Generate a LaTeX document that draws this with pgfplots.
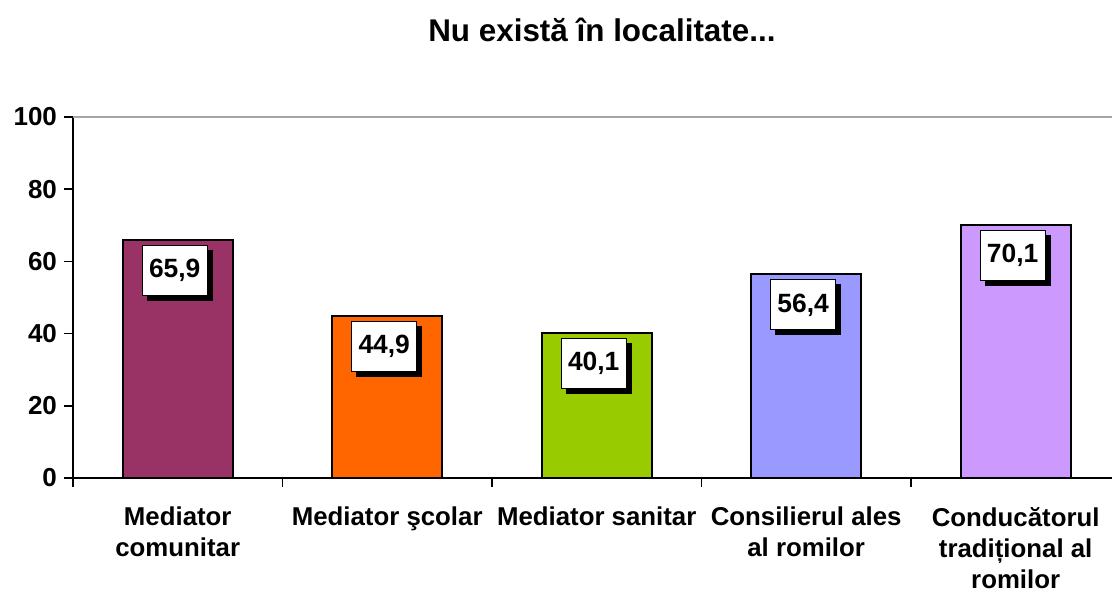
\documentclass[border=0pt]{standalone}
\usepackage{pgfplots}
\pgfplotsset{compat=1.18}
\usepackage{fontspec}
\setmainfont{Liberation Sans}
\usetikzlibrary{shadows}
\definecolor{c1}{HTML}{993366}
\definecolor{c2}{HTML}{FF6600}
\definecolor{c3}{HTML}{99CC00}
\definecolor{c4}{HTML}{9999FF}
\definecolor{c5}{HTML}{CC99FF}
\begin{document}
\begin{tikzpicture}[x=1pt,y=1pt]
\path[use as bounding box] (0,0) rectangle (556,298);
\begin{axis}[
  at={(36.5pt,59pt)}, anchor=south west,
  width=519.5pt, height=180.5pt, scale only axis,
  xmin=-0.5, xmax=4.46, ymin=0, ymax=100,
  clip=false,
  axis lines=left,
  axis line style={-, line width=1pt, black},
  tick align=outside,
  major tick length=4.5pt,
  tick style={line width=0.8pt, black},
  ytick={0,20,...,100},
  yticklabel style={font=\bfseries\fontsize{13}{14}\selectfont},
  /pgf/number format/assume math mode=true,
  xtick={-0.5,0.5,1.5,2.5,3.5},
  xticklabels={},
  extra x ticks={0,1,2,3,4},
  extra x tick labels={{Mediator\\comunitar},{Mediator şcolar},{Mediator sanitar},{Consilierul ales\\al romilor},{Conducătorul\\tradițional al\\romilor}},
  extra x tick style={major tick length=0pt, tick label style={font=\bfseries\fontsize{12.9}{15.5}\selectfont, align=center, anchor=north, yshift=-11pt}},
  ybar, bar shift=0pt, bar width=55pt,
  every axis plot/.append style={draw=black, line width=1pt},
  nodes near coords,
  every node near coord/.append style={anchor=north, yshift=-2.5pt, xshift=-1.5pt,
    fill=white, draw=black, line width=0.5pt, minimum width=32.5pt, minimum height=25pt, inner sep=0pt,
    font=\bfseries\fontsize{13.2}{14}\selectfont,
    /pgf/number format/fixed, /pgf/number format/fixed zerofill, /pgf/number format/precision=1, /pgf/number format/use comma,
    drop shadow={shadow xshift=2.5pt, shadow yshift=-2.5pt, fill=black, opacity=1}},
]
\addplot[fill=c1] coordinates {(0,65.9)};
\addplot[fill=c2] coordinates {(1,44.9)};
\addplot[fill=c3] coordinates {(2,40.1)};
\addplot[fill=c4] coordinates {(3,56.4)};
\addplot[fill=c5] coordinates {(4,70.1)};
\draw[gray!70, line width=0.75pt] (rel axis cs:0,1) -- (rel axis cs:1,1);
\node[font=\bfseries\fontsize{15.7}{18}\selectfont] at (axis cs:2.025,124.1) {Nu există în localitate...};
\end{axis}
\end{tikzpicture}
\end{document}
